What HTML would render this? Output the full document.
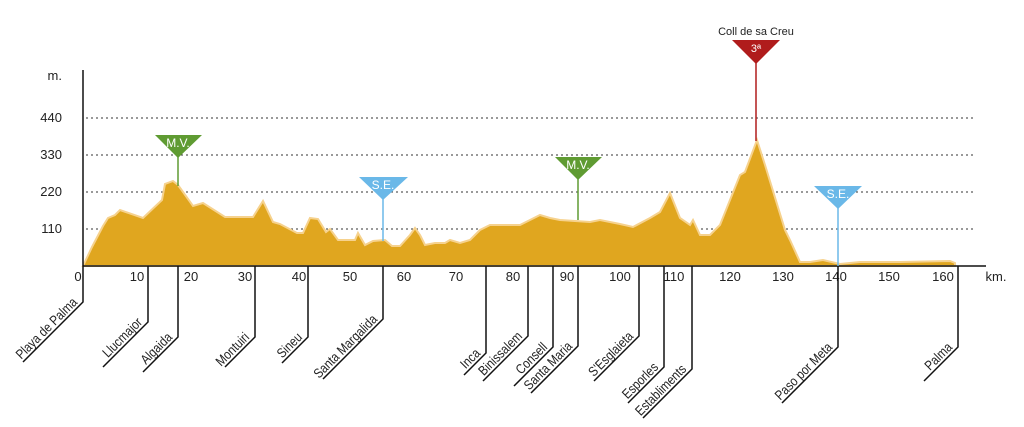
<!DOCTYPE html>
<html><head><meta charset="utf-8"><style>body{margin:0;background:#fff}svg{display:block}text{font-family:"Liberation Sans",sans-serif}</style></head><body>
<svg width="1024" height="427" viewBox="0 0 1024 427">
<g stroke="#333" stroke-width="1" stroke-dasharray="2,3">
<line x1="86" y1="118" x2="975" y2="118"/><line x1="86" y1="155" x2="975" y2="155"/><line x1="86" y1="192" x2="975" y2="192"/><line x1="86" y1="229" x2="975" y2="229"/></g>
<g font-size="13" fill="#222" text-anchor="end"><text x="62" y="80">m.</text><text x="62" y="122">440</text><text x="62" y="159">330</text><text x="62" y="196">220</text><text x="62" y="233">110</text></g>
<path d="M83,266 L92,247 L103,226 L108,218 L115,215 L120,210 L143,218 L162,200 L165,184 L173,181 L178,185 L193,206 L203,203 L225,217 L253,217 L263,201 L273,222 L280,224 L297,233 L303,233 L310,218 L318,219 L326,232 L330,229 L338,240 L355,240 L358,233 L365,245 L373,241 L385,240 L392,246 L400,246 L410,235 L415,228 L420,235 L425,245 L435,243 L445,243 L450,240 L460,243 L470,240 L480,230 L490,225 L520,225 L530,220 L540,215 L550,218 L560,220 L590,222 L600,220 L620,224 L633,227 L650,218 L660,212 L670,193 L680,218 L690,225 L693,220 L700,235 L710,235 L720,225 L740,175 L745,172 L757,140 L765,165 L785,230 L790,240 L800,262 L810,262 L823,260 L840,264 L860,262 L900,262 L950,261 L955,263 L955,266 Z" fill="#e0a61f" stroke="#f6d28e" stroke-width="2"/>
<line x1="83" y1="70" x2="83" y2="266" stroke="#111" stroke-width="1.5"/>
<line x1="83" y1="266" x2="986" y2="266" stroke="#111" stroke-width="1.5"/>
<g font-size="13" fill="#222" text-anchor="middle"><text x="78" y="281">0</text><text x="137" y="281">10</text><text x="191" y="281">20</text><text x="245" y="281">30</text><text x="299" y="281">40</text><text x="350" y="281">50</text><text x="404" y="281">60</text><text x="456" y="281">70</text><text x="513" y="281">80</text><text x="567" y="281">90</text><text x="620" y="281">100</text><text x="674" y="281">110</text><text x="730" y="281">120</text><text x="783" y="281">130</text><text x="836" y="281">140</text><text x="889" y="281">150</text><text x="943" y="281">160</text><text x="996" y="281">km.</text></g>
<g stroke="#111" stroke-width="1.5" fill="none">
<polyline points="83,266 83,302 23,362"/><polyline points="148,266 148,322 103,367"/><polyline points="178,266 178,337 143,372"/><polyline points="255,266 255,337 225,367"/><polyline points="308,266 308,337 282,363"/><polyline points="383,266 383,319 323,379"/>
<polyline points="486,266 486,353 464,375"/><polyline points="528,266 528,336 483,381"/><polyline points="553,266 553,347 514,386"/><polyline points="578,266 578,346 531,393"/><polyline points="639,266 639,336 594,381"/><polyline points="664,266 664,367 628,403"/><polyline points="692,266 692,369 643,418"/><polyline points="838,266 838,347 782,403"/><polyline points="958,266 958,347 924,381"/></g>
<g font-size="13.5" fill="#222" text-anchor="end">
<text transform="translate(78,303) rotate(-45) scale(0.85,1)">Playa de Palma</text>
<text transform="translate(143,323) rotate(-45) scale(0.85,1)">Llucmajor</text>
<text transform="translate(173,338) rotate(-45) scale(0.85,1)">Algaida</text>
<text transform="translate(250,338) rotate(-45) scale(0.85,1)">Montuiri</text>
<text transform="translate(303,338) rotate(-45) scale(0.85,1)">Sineu</text>
<text transform="translate(378,320) rotate(-45) scale(0.85,1)">Santa Margalida</text>
<text transform="translate(481,354) rotate(-45) scale(0.85,1)">Inca</text>
<text transform="translate(523,337) rotate(-45) scale(0.85,1)">Binissalem</text>
<text transform="translate(548,348) rotate(-45) scale(0.85,1)">Consell</text>
<text transform="translate(573,347) rotate(-45) scale(0.85,1)">Santa Maria</text>
<text transform="translate(634,337) rotate(-45) scale(0.85,1)">S'Esglaieta</text>
<text transform="translate(659,368) rotate(-45) scale(0.85,1)">Esporles</text>
<text transform="translate(687,370) rotate(-45) scale(0.85,1)">Establiments</text>
<text transform="translate(833,348) rotate(-45) scale(0.85,1)">Paso por Meta</text>
<text transform="translate(953,348) rotate(-45) scale(0.85,1)">Palma</text></g>
<line x1="178" y1="155" x2="178" y2="186" stroke="#5f9b32" stroke-width="1.5"/><path d="M155,135 L202,135 L178,158 Z" fill="#5f9b32"/><text x="178" y="147" font-size="12" fill="#fff" text-anchor="middle">M.V.</text>
<line x1="578" y1="178" x2="578" y2="220" stroke="#5f9b32" stroke-width="1.5"/><path d="M555,157 L602,157 L578,180 Z" fill="#5f9b32"/><text x="578" y="169" font-size="12" fill="#fff" text-anchor="middle">M.V.</text>
<line x1="383" y1="198" x2="383" y2="241" stroke="#6ab8e8" stroke-width="1.5"/><path d="M359,177 L408,177 L383,200 Z" fill="#6ab8e8"/><text x="383" y="189" font-size="12" fill="#fff" text-anchor="middle">S.E.</text>
<line x1="838" y1="207" x2="838" y2="266" stroke="#6ab8e8" stroke-width="1.5"/><path d="M814,186 L862,186 L838,209 Z" fill="#6ab8e8"/><text x="838" y="198" font-size="12" fill="#fff" text-anchor="middle">S.E.</text>
<line x1="756" y1="60" x2="756" y2="141" stroke="#b01c1c" stroke-width="1.5"/><path d="M732,40 L780,40 L756,64 Z" fill="#b01c1c"/><text x="756" y="52" font-size="11" fill="#fff" text-anchor="middle">3ª</text>
<text x="756" y="35" font-size="11" fill="#222" text-anchor="middle">Coll de sa Creu</text>
</svg></body></html>
